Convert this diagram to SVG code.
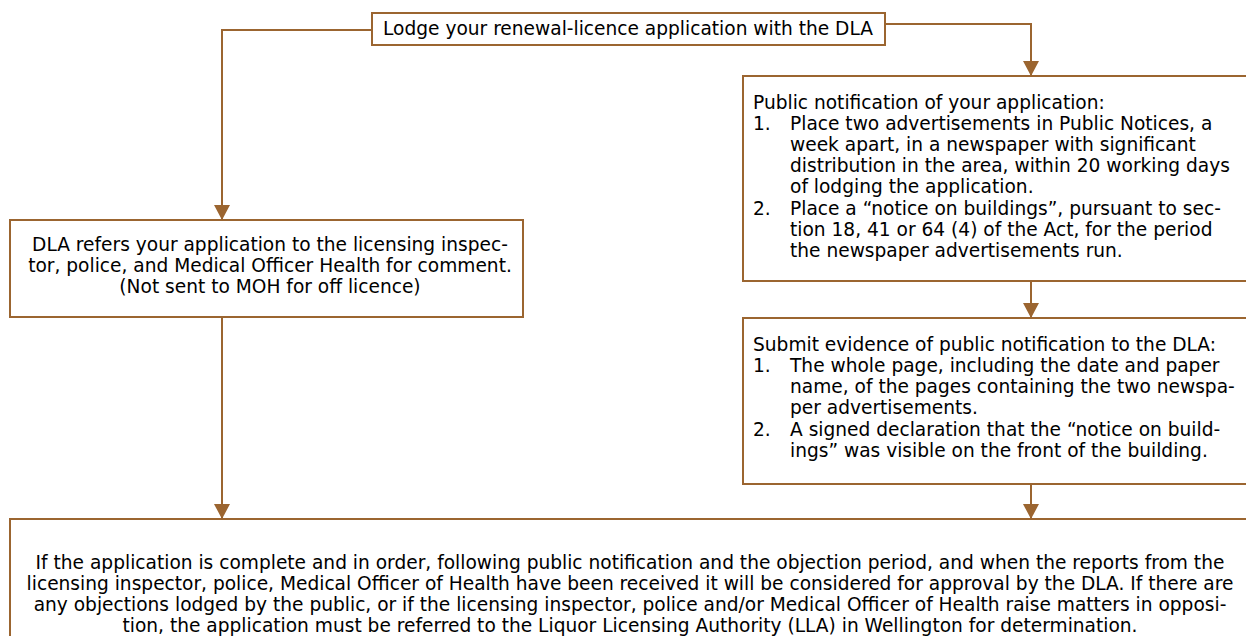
<svg xmlns="http://www.w3.org/2000/svg" width="1246" height="636" viewBox="0 0 1246 636">
<defs>
<marker id="arr" markerUnits="userSpaceOnUse" markerWidth="16" markerHeight="16" refX="15" refY="8" orient="auto">
<path d="M0,0 L15,8 L0,16 z" fill="#9b6530"/>
</marker>
<style>
.box{fill:#fff;stroke:#9b6530;stroke-width:2}
.c{fill:none;stroke:#9b6530;stroke-width:2}
text{font-family:"DejaVu Sans",Verdana,sans-serif;font-size:18.6px;fill:#000}
.m{text-anchor:middle}
</style>
</defs>
<rect width="1246" height="636" fill="#fff"/>
<g id="connectors">
<path class="c" d="M372,30 H222 V220" marker-end="url(#arr)"/>
<path class="c" d="M885,24 H1031 V76" marker-end="url(#arr)"/>
<path class="c" d="M222,317 V519" marker-end="url(#arr)"/>
<path class="c" d="M1031,281 V318" marker-end="url(#arr)"/>
<path class="c" d="M1031,484 V519" marker-end="url(#arr)"/>
</g>
<g id="n-lodge">
<rect class="box" x="372" y="13" width="513" height="32"/>
<text class="m" x="628" y="35">Lodge your renewal-licence application with the DLA</text>
</g>
<g id="n-refer">
<rect class="box" x="10" y="220" width="513" height="97"/>
<text class="m" x="270" y="251">DLA refers your application to the licensing inspec-</text>
<text class="m" x="270" y="272">tor, police, and Medical Officer Health for comment.</text>
<text class="m" x="270" y="293">(Not sent to MOH for off licence)</text>
</g>
<g id="n-notify">
<rect class="box" x="743" y="76" width="520" height="205"/>
<text x="753" y="109">Public notification of your application:</text>
<text x="753" y="130">1.</text>
<text x="790" y="130">Place two advertisements in Public Notices, a</text>
<text x="790" y="151">week apart, in a newspaper with significant</text>
<text x="790" y="172">distribution in the area, within 20 working days</text>
<text x="790" y="193">of lodging the application.</text>
<text x="753" y="215">2.</text>
<text x="790" y="215">Place a “notice on buildings”, pursuant to sec-</text>
<text x="790" y="236">tion 18, 41 or 64 (4) of the Act, for the period</text>
<text x="790" y="257">the newspaper advertisements run.</text>
</g>
<g id="n-evidence">
<rect class="box" x="743" y="318" width="520" height="166"/>
<text x="753" y="351">Submit evidence of public notification to the DLA:</text>
<text x="753" y="372">1.</text>
<text x="790" y="372">The whole page, including the date and paper</text>
<text x="790" y="393">name, of the pages containing the two newspa-</text>
<text x="790" y="414">per advertisements.</text>
<text x="753" y="436">2.</text>
<text x="790" y="436">A signed declaration that the “notice on build-</text>
<text x="790" y="457">ings” was visible on the front of the building.</text>
</g>
<g id="n-decision">
<rect class="box" x="10" y="519" width="1250" height="140"/>
<text class="m" x="630" y="569">If the application is complete and in order, following public notification and the objection period, and when the reports from the</text>
<text class="m" x="630" y="590">licensing inspector, police, Medical Officer of Health have been received it will be considered for approval by the DLA.  If there are</text>
<text class="m" x="630" y="611">any objections lodged by the public, or if the licensing inspector, police and/or Medical Officer of Health raise matters in opposi-</text>
<text class="m" x="630" y="632">tion, the application must be referred to the Liquor Licensing Authority (LLA) in Wellington for determination.</text>
</g>
</svg>
